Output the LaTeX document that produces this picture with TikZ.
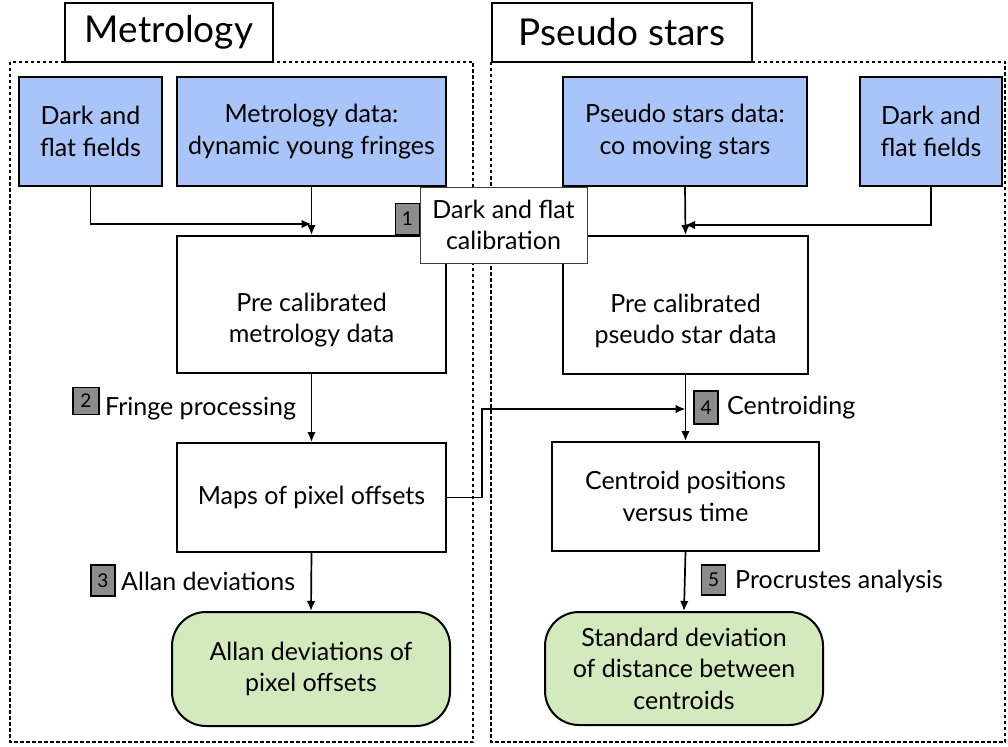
\documentclass[tikz,border=0pt]{standalone}
\usepackage{fontspec}
\setmainfont{Lato}
\usetikzlibrary{arrows.meta}
\definecolor{inblue}{HTML}{A9C4F9}
\definecolor{outgreen}{HTML}{D3E9BE}
\definecolor{stepgray}{HTML}{8C8C8C}
\tikzset{
  txt/.style={font=\fontsize{25}{31.5}\selectfont, align=center, text=black},
  box/.style={txt, draw=black, line width=2pt, inner sep=0pt},
  inbox/.style={box, fill=inblue},
  midbox/.style={box, fill=white},
  outbox/.style={box, fill=outgreen, rounded corners=34pt},
  titlebox/.style={draw=black, line width=2pt, fill=white, inner sep=0pt, font=\fontsize{37}{40}\selectfont},
  container/.style={draw=black, line width=1.6pt, dash pattern=on 3.5pt off 2.5pt},
  stepbox/.style={draw=black, line width=1.5pt, fill=stepgray, inner sep=0pt, minimum width=24pt, minimum height=31pt, font=\fontsize{19}{22}\selectfont},
  steplabel/.style={txt, anchor=west, inner sep=0pt},
  arr/.style={line width=1.7pt, -{Latex[length=10pt,width=8.5pt]}},
}
\newcommand{\lowertext}{\rule{0pt}{50pt}}
\begin{document}
\begin{tikzpicture}[x=1pt,y=-1pt]
\useasboundingbox (0,0) rectangle (1008,746);
% containers
\draw[container] (10,62) rectangle (473,742);
\draw[container] (491,62) rectangle (1005,742);
% titles
\node[titlebox, minimum width=208pt, minimum height=59pt] (t1) at (169,32.5) {Metrology};
\node[titlebox, minimum width=260pt, minimum height=59pt] (t2) at (622,32.5) {Pseudo stars};
% inputs
\node[inbox, minimum width=143pt, minimum height=109pt] (ldark) at (90.5,131.5) {Dark and\\flat fields};
\node[inbox, minimum width=269pt, minimum height=109pt] (mdata) at (311.5,131.5) {Metrology data:\\dynamic young fringes};
\node[inbox, minimum width=244pt, minimum height=109pt] (pdata) at (685,131.5) {Pseudo stars data:\\co moving stars};
\node[inbox, minimum width=142pt, minimum height=109pt] (rdark) at (931,131.5) {Dark and\\flat fields};
% intermediate
\node[midbox, minimum width=269pt, minimum height=137pt] (precm) at (311.5,304.5) {\lowertext Pre calibrated\\metrology data};
\node[midbox, minimum width=245pt, minimum height=138pt] (precp) at (685.5,305) {\lowertext Pre calibrated\\pseudo star data};
\node[midbox, minimum width=269pt, minimum height=109pt] (maps) at (311.5,497.5) {Maps of pixel offsets};
\node[midbox, minimum width=267pt, minimum height=109pt] (cent) at (685.5,496.5) {Centroid positions\\versus time};
% outputs
\node[outbox, minimum width=278pt, minimum height=114pt] (allan) at (311,669) {Allan deviations of\\pixel offsets};
\node[outbox, minimum width=278pt, minimum height=113pt] (std) at (684,668.5) {Standard deviation\\of distance between\\centroids};
% connectors
\coordinate (j1) at (mdata.south |- 0,224);
\coordinate (j2) at (pdata.south |- 0,225);
\coordinate (j4) at (precp.south |- 0,409);
\draw[arr] (ldark.south) |- (j1);
\draw[arr] (mdata.south) -- (precm.north);
\draw[arr] (rdark.south) |- (j2);
\draw[arr] (pdata.south) -- (precp.north);
\draw[arr] (precm.south) -- (maps.north);
\draw[arr] (maps.south) -- (allan.north);
\draw[arr] (precp.south) -- (cent.north);
\draw[arr] (cent.south) -- (std.north);
\draw[arr] (maps.east) -- (482,497.5) |- (j4);
% calibration label
\node[box, fill=white, line width=1pt, draw=black!75, minimum width=167pt, minimum height=76pt] (cal) at (503.5,225) {Dark and flat\\calibration};
% steps
\node[stepbox] (s1) at (407.5,219) {1};
\node[stepbox, minimum width=26pt, minimum height=27pt] (s2) at (86,401) {2};
\node[steplabel] (l2) at (105,409) {Fringe processing};
\node[stepbox] (s3) at (103,580.5) {3};
\node[steplabel] (l3) at (121,581) {Allan deviations};
\node[stepbox, minimum height=33pt] (s4) at (706,407.5) {4};
\node[steplabel] (l4) at (727,408) {Centroiding};
\node[stepbox, minimum height=30pt] (s5) at (713.5,580) {5};
\node[steplabel] (l5) at (735,581) {Procrustes analysis};
\end{tikzpicture}
\end{document}
